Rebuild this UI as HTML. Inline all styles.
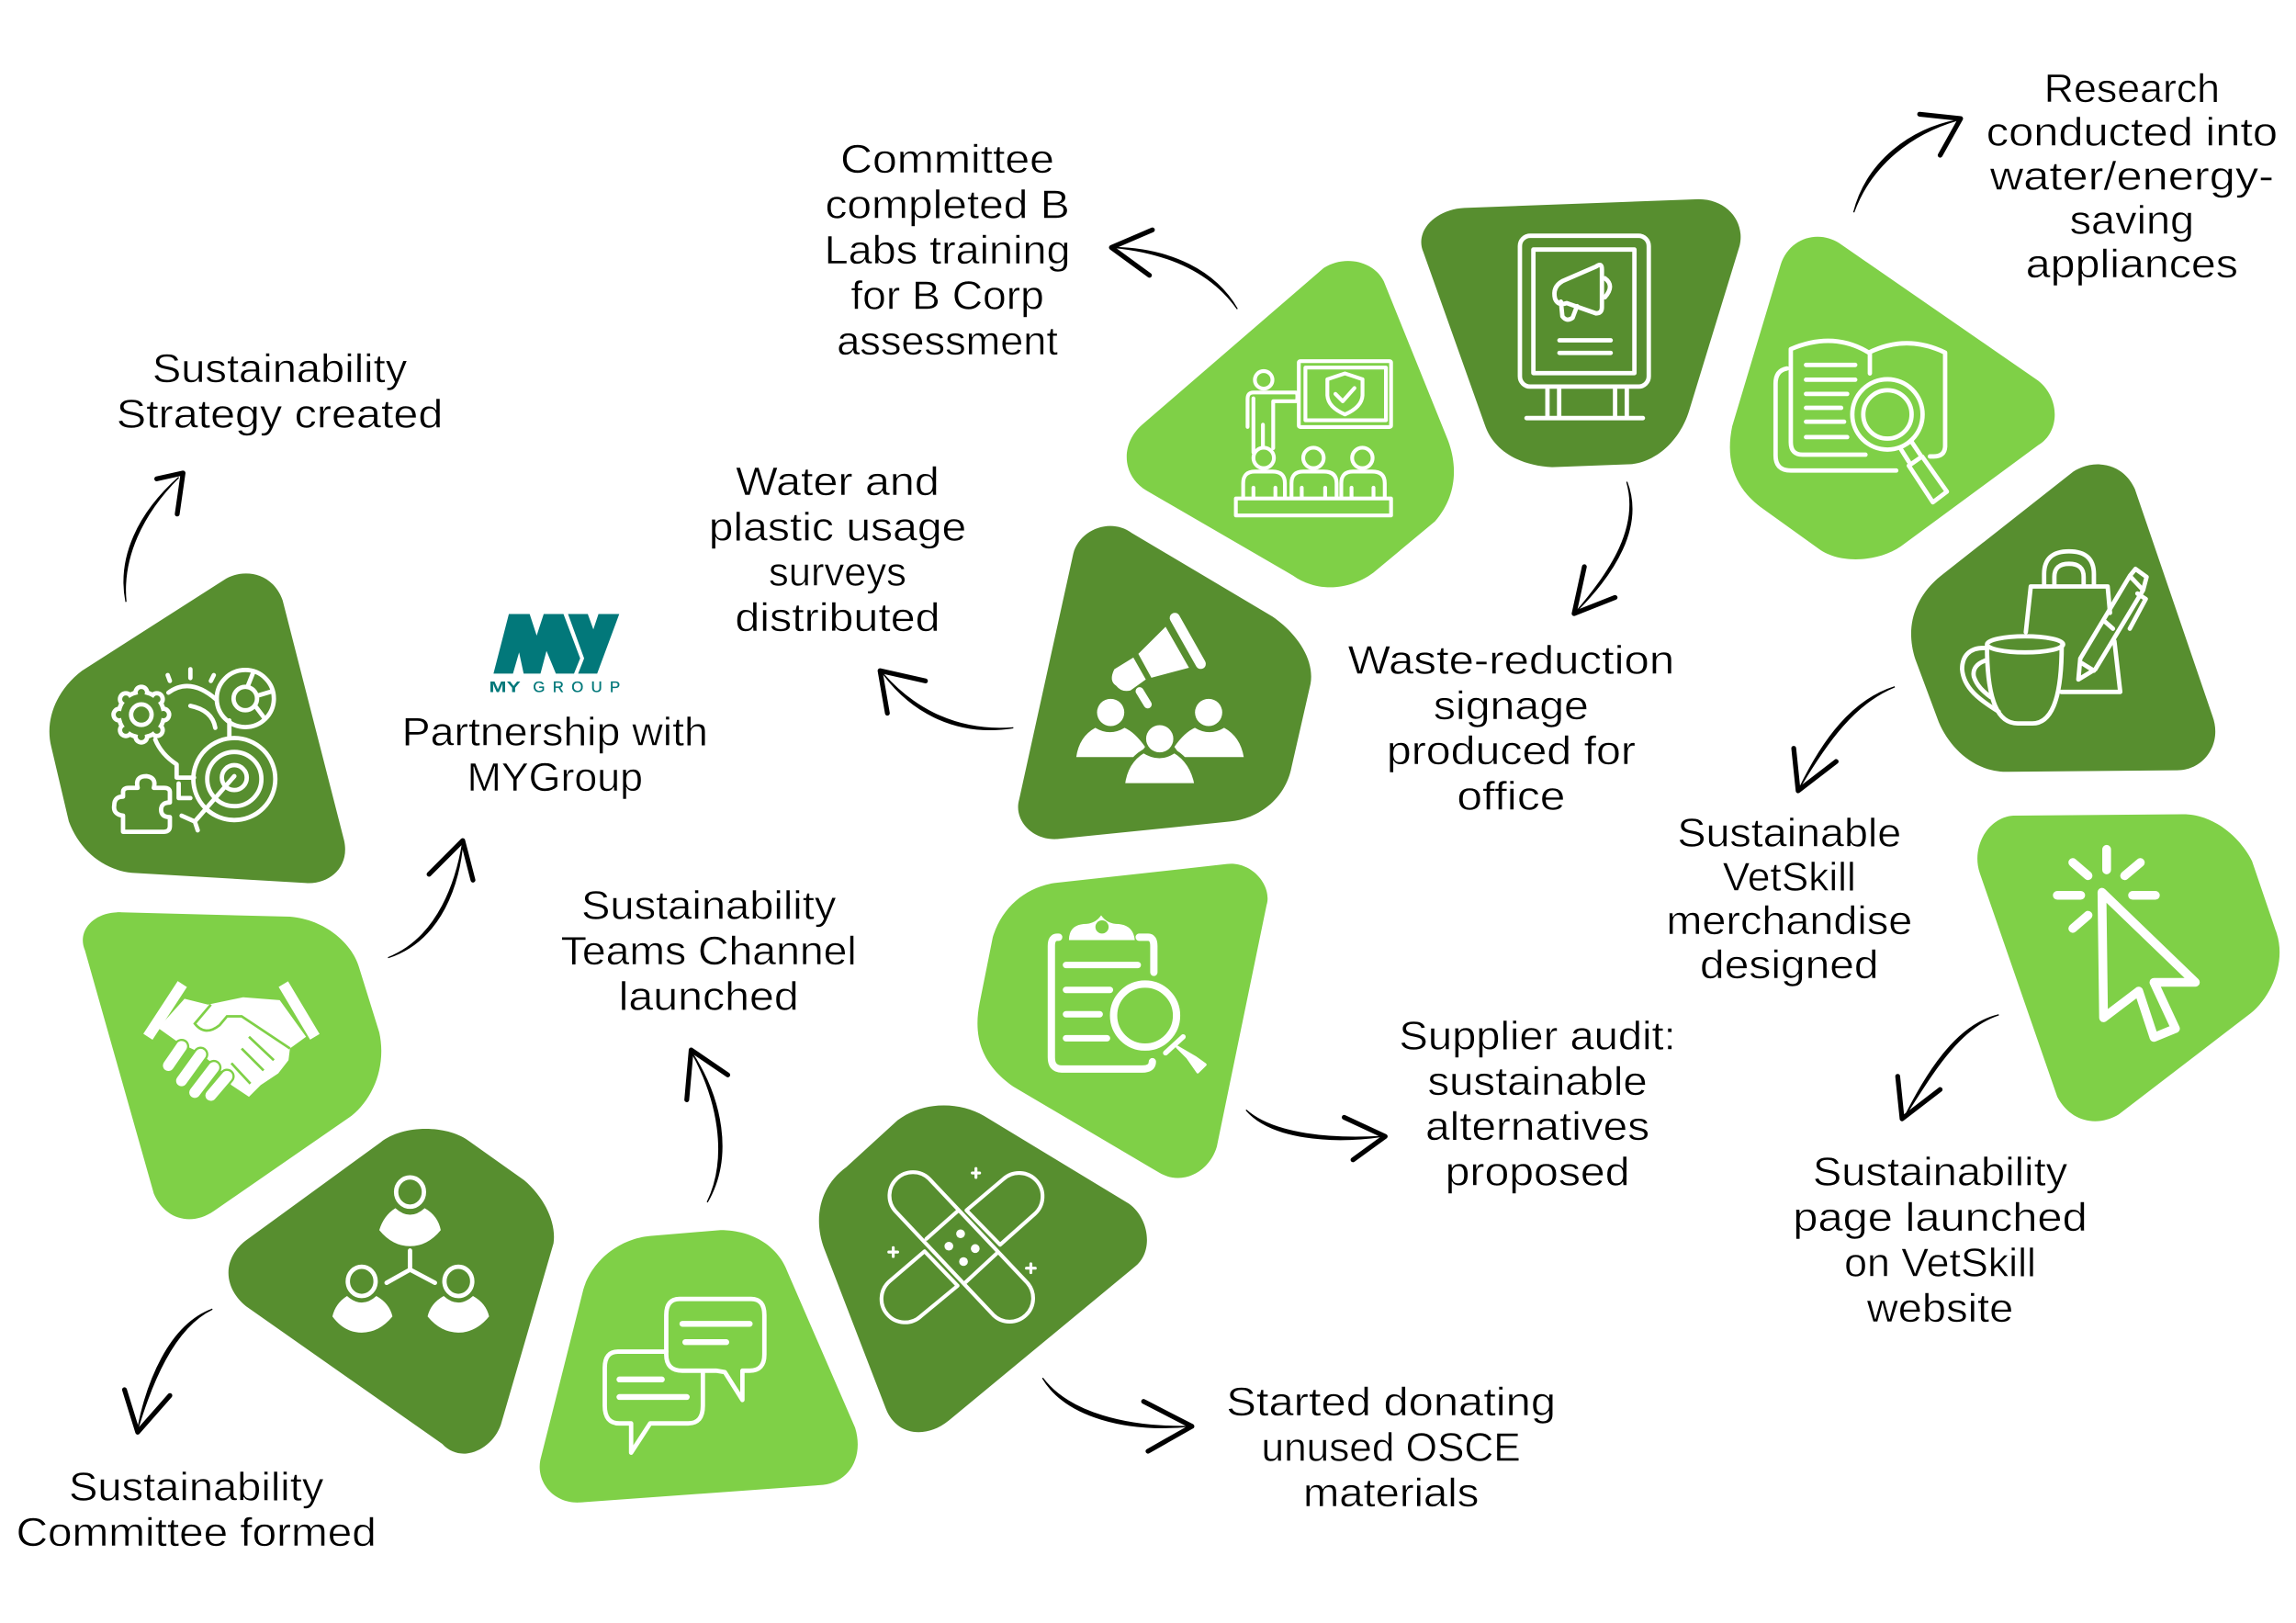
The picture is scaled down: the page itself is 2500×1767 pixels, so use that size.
<!DOCTYPE html>
<html><head><meta charset="utf-8"><title>Sustainability timeline</title>
<style>
html,body{margin:0;padding:0;background:#fff}
svg{display:block;width:2500px;height:1767px}
text.t{font-family:"Liberation Sans",sans-serif;font-size:27.5px;fill:#000;stroke:#fff;stroke-width:.35;text-anchor:middle}
.d{fill:#578e2f}.l{fill:#7fd047}
.w{fill:none;stroke:#fff;stroke-width:3;stroke-linecap:round;stroke-linejoin:round}
.f{fill:#fff}
.a{fill:#000;stroke:#000;stroke-width:.8}
.h{fill:none;stroke:#000;stroke-width:3.3;stroke-linecap:round;stroke-linejoin:round}
</style></head><body>
<svg xmlns="http://www.w3.org/2000/svg" viewBox="0 0 1568 1108.3" width="2500" height="1767">
<rect width="1568" height="1108.3" fill="#fff"/>

<!-- shapes -->
<path class="d" d="M153,396C165,388 186,390 193,410L235,574C239,592 225,604 209,603L90,596C70,594 54,580 47,561L35,510C30,490 40,470 56,458Z"/>
<path class="l" d="M83,623L198,626C222,628 240,644 245,660L259,705C264,728 255,750 240,762L146,827C130,838 112,832 105,815L58,649C52,635 65,622 83,623Z"/>
<path class="d" d="M260,780C275,768 305,768 320,779L358,806C372,818 380,835 378,849L342,973C336,990 315,1000 302,986L168,892C153,880 151,860 168,847Z"/>
<path class="l" d="M444,844L492,840C515,840 532,852 538,869L584,975C590,995 580,1012 562,1014L396,1026C378,1027 366,1012 369,997L398,882C403,862 422,846 444,844Z"/>
<path class="d" d="M613,765C630,752 655,752 672,762L771,822C785,832 788,855 775,865L648,970C632,983 612,980 605,962L563,853C555,832 560,810 578,797Z"/>
<path class="l" d="M720,603L838,590C855,588 869,605 865,618L831,783C826,800 808,810 792,801L692,742C672,728 664,710 669,685L678,640C684,620 700,606 720,603Z"/>
<path class="d" d="M773,364L869,421C885,432 898,450 895,467L882,524C878,545 860,559 840,561L722,573C705,574 692,560 696,546L733,378C737,362 758,353 773,364Z"/>
<path class="l" d="M904,183C918,174 938,178 945,192L989,301C996,320 994,340 980,356L938,391C922,403 900,405 883,393L783,335C766,325 765,303 780,290Z"/>
<path class="d" d="M1000,142L1160,136C1180,136 1192,152 1188,168L1154,279C1148,300 1132,315 1114,317L1060,319C1038,318 1020,308 1014,290L972,172C966,158 980,143 1000,142Z"/>
<path class="l" d="M1256,166L1392,260C1407,272 1407,295 1392,304L1301,371C1285,384 1256,386 1241,374L1202,346C1185,333 1178,315 1183,291L1216,181C1222,162 1242,157 1256,166Z"/>
<path class="d" d="M1416,322C1430,313 1450,316 1458,334L1511,489C1518,508 1505,526 1487,526L1372,527C1350,528 1332,512 1324,493L1308,450C1300,425 1310,405 1327,392Z"/>
<path class="l" d="M1375,557L1491,556C1512,556 1530,572 1538,588L1554,635C1562,655 1552,680 1537,692L1447,761C1432,770 1414,766 1405,749L1352,596C1346,578 1358,558 1375,557Z"/>

<!-- icon: strategy -->
<g class="w">
<circle cx="160" cy="532" r="28"/><circle cx="160" cy="532" r="18.5"/><circle cx="160" cy="531" r="8.5"/>
<circle cx="167.5" cy="477" r="19.5"/><circle cx="167.5" cy="477" r="8"/>
<path d="M173,459L169,469M181,491L175,483M186,472L176,475"/>
<path d="M115,473Q130,462 148,478M130,482Q145,485 147,497M156.6,492V504M106,505Q110,515 120.6,522V531H132.5M122,535V545H130"/>
<path d="M160,530L133,561M124,557L133,561L135,567"/>
<path d="M114.5,461L116,465M130,457V463M146,461L144,465"/>
<path d="M84,568Q84,568 84,564V557Q77,556 78,550Q78,544 84,544V541Q84,538 88,538H94Q92,530 100,530Q107,531 105,538H112Q116,538 116,541V548Q110,548 110,553Q110,558 116,558V564Q116,568 112,568Z"/>
</g>
<path d="M96.5,473h0M107.1,477.4h0M111.5,488h0M107.1,498.6h0M96.5,503h0M85.9,498.6h0M81.5,488h0M85.9,477.4h0" fill="none" stroke="#fff" stroke-width="11" stroke-linecap="round"/>
<circle cx="96.5" cy="488" r="17" fill="#fff"/>
<path d="M96.5,473h0M107.1,477.4h0M111.5,488h0M107.1,498.6h0M96.5,503h0M85.9,498.6h0M81.5,488h0M85.9,477.4h0" fill="none" stroke="#578e2f" stroke-width="5" stroke-linecap="round"/>
<circle cx="96.5" cy="488" r="14" fill="#578e2f"/>
<circle cx="96.5" cy="488" r="7" class="w"/>

<!-- icon: handshake -->
<path d="M124.5,672L101,708M193.5,672L215,708" fill="none" stroke="#fff" stroke-width="7.5" stroke-linecap="butt"/>
<path class="f" d="M126,682L142,686L166,681L191,683L209,708L198,716L197,724L190,733L178,741L170,749L158,741L150,730L135,718L122,712L108,702Z"/>
<path d="M144,686L133,699Q140,708 150,700L155,694H165L198,716M170,708L187,724M165,716L180,731M158,726L171,740" fill="none" stroke="#7fd047" stroke-width="1.7"/>
<path d="M124,714.6L115,727.6M137,720L124,738M146,729L133,746M155,735L144,748" stroke="#7fd047" stroke-width="10.5" stroke-linecap="round" fill="none"/>
<path d="M124,714.6L115,727.6M137,720L124,738M146,729L133,746M155,735L144,748" stroke="#fff" stroke-width="7.5" stroke-linecap="round" fill="none"/>

<!-- icon: people -->
<g class="w"><ellipse cx="280" cy="814" rx="9.5" ry="10"/><ellipse cx="247" cy="875" rx="9.5" ry="10"/><ellipse cx="313" cy="875" rx="9.5" ry="10"/>
<path d="M280,854V867M264,876L280,867L297,876"/></g>
<path class="f" d="M259,840Q262,830 270,825Q280,834 290,825Q299,830 301,840Q292,851 280,851Q268,851 259,840Z"/>
<path class="f" d="M227,899Q229,890 237,885Q247,894 257,885Q266,890 268,899Q259,910 247,910Q235,910 227,899Z"/>
<path class="f" d="M292,899Q294,890 303,885Q313,894 323,885Q332,890 334,899Q325,910 313,910Q301,910 292,899Z"/>

<!-- icon: chat -->
<g class="w"><path d="M464,887H513Q522,887 522,898V925Q522,936 512,936H507V956L495,937L489,936H466Q455,936 455,925V898Q455,887 464,887Z"/>
<path d="M455,923H422Q413,923 413,934V960Q413,972 423,972H431V992L444,972H470Q480,972 480,960V937"/></g>
<g class="w" style="stroke-width:4"><path d="M466,904H512M468,916.5H496M423,942H452M423,954H469"/></g>

<!-- icon: bandage -->
<g class="w" style="stroke-width:2.6"><path d="M634.6,805L701.6,876A16,16 0 0 1 678.4,898L611.4,827A16,16 0 0 1 634.6,805Z"/>
<path d="M660,826.5L685.3,805.1A16,16 0 0 1 706.7,828.9L683,850Z"/>
<path d="M631.4,854.5L607.3,875.1A16,16 0 0 0 628.7,898.9L654,878Z"/>
<path d="M632.6,846L654,827M659,876L680.6,856"/>
<path d="M664,801H669M666.5,798V804M607,855H613M610,852V858M701,866H707M704,863V869" style="stroke-width:2"/></g>
<g fill="#fff"><circle cx="656" cy="842.5" r="3"/><circle cx="648" cy="851" r="3"/><circle cx="666" cy="852.6" r="3"/><circle cx="658" cy="861.5" r="3"/></g>

<!-- icon: clipboard -->
<g class="w" style="stroke-width:5"><path d="M723,640H722Q718,640 718,646V722Q718,730 725,730H780Q787,730 787,725M778,640H784Q788,640 788,646V664"/></g>
<path class="f" d="M730,642Q730,632 740,631Q748,631 752,625Q756,631 764,631Q774,632 775,642Z"/><ellipse cx="752.6" cy="633" rx="4.5" ry="4.5" fill="#7fd047"/>
<g class="w" style="stroke-width:4.4"><path d="M728,659H777M728,676H758M728,692.6H751M728,709H756"/></g>
<circle cx="782" cy="693.5" r="21.5" class="w" style="stroke-width:5"/>
<path class="w" d="M796,719L808,708" style="stroke-width:3.5"/><path d="M804,715L811,722L818,732L823,727L816,722Z" fill="#fff" stroke="#fff" stroke-width="2" stroke-linejoin="round"/>

<!-- icon: megaphone people -->
<path d="M802.3,422L820,453.3" stroke="#fff" stroke-width="7" stroke-linecap="round" fill="none"/>
<path class="f" d="M796,428L777.4,446.5L786.3,462.8L812,456Z"/>
<path class="f" d="M774,449L761,457Q757,465 762.3,468.3Q766,473 772,471.5L782.5,464Z"/>
<path d="M778.3,472L783.8,481" stroke="#fff" stroke-width="5.5" stroke-linecap="round" fill="none"/>
<circle cx="758.5" cy="486.5" r="9.3" class="f"/><circle cx="825.4" cy="486.5" r="9.3" class="f"/>
<path class="f" d="M735,517Q737,503 748,497Q758,503 768,497Q775,500 782,510L777,517ZM849.4,517Q847,503 836,497Q826,503 816,497Q809,500 802,510L807,517Z"/>
<path class="f" stroke="#578e2f" stroke-width="2.5" d="M767,536Q769,520 781,513Q792,520 802,513Q814,520 817,536Z"/>
<circle cx="792" cy="504.5" r="9.3" class="f"/>

<!-- icon: presentation -->
<g class="w" style="stroke-width:2.6">
<rect x="887" y="246.6" width="63" height="45" rx="1"/><rect x="891.5" y="251" width="55" height="36"/>
<path d="M918.5,255L930.5,259V270Q930,278 918.5,283Q907,278 906.5,270V259Z"/><path d="M912,269L917,274L925,265"/>
<circle cx="863" cy="259.4" r="6"/>
<path d="M852,291.5V272.4Q852,268 856,268H885Q886,268 886,271Q886,274 885,274H869.5V306M856,309V272M862.5,290V305"/>
<circle cx="863" cy="312.7" r="7"/><circle cx="897" cy="312.7" r="7"/><circle cx="930.4" cy="312.7" r="7"/>
<path d="M849,340V330Q849,322 857,322H869Q877.5,322 877.5,330V340M882,340V330Q882,322 890,322H904Q912.8,322 912.8,330V340M916,340V330Q916,322 924,322H937Q945.7,322 945.7,330V340"/>
<path d="M856,333V340M871,333V340M889,333V340M905,333V340M923,333V340M938,333V340"/>
<rect x="844" y="340.4" width="106" height="11.6"/>
</g>

<!-- icon: signage -->
<g class="w" style="stroke-width:3">
<rect x="1038" y="161" width="88" height="103" rx="7"/><rect x="1047.2" y="170.4" width="69" height="84.4"/>
<path d="M1056.8,265V284M1064.8,265V284M1103,265V284M1111,265V284M1042.5,285.5H1122"/>
<path d="M1065,232.4H1100M1065,241H1100"/>
<path d="M1090,182L1067,192Q1060,196 1062,204Q1064,209 1070,207L1090,214Q1094,214 1094,210V184Q1094,179 1090,182Z"/>
<path d="M1066,206L1067,216Q1070,220 1074,217L1077,209M1096,190Q1103,195 1096,203"/>
</g>

<!-- icon: book -->
<g class="w" style="stroke-width:3">
<path d="M1223,238.4Q1252,226 1276.3,240.8Q1302,228 1328.4,240.8V305Q1328,311.7 1320.6,311.7H1318M1277,241V255M1223,238.4V302Q1223,310.5 1231,310.5H1274M1220.4,251.6Q1212.6,253 1212.6,262V311Q1212.6,321.3 1223,321.3H1295"/>
<path d="M1233.4,249.2H1267M1233.4,259.3H1267M1233.4,269H1261.5M1233.4,278.5H1257.4M1233.4,288H1259.4M1233.4,298.5H1261.5"/>
<circle cx="1289" cy="283" r="24"/><circle cx="1289" cy="283" r="16.5"/>
<path d="M1298.4,307L1303.6,315.3M1305.7,302L1311.4,310.5M1303.6,318L1312.7,311.7L1329.6,335.7L1320,343Z"/>
</g>

<!-- icon: cup -->
<g class="w" style="stroke-width:3">
<path d="M1383.5,431.7L1386.9,400.5H1439.4L1441,418.5M1444,437.7L1448,472.5H1407.7"/>
<path d="M1396,400V392Q1396,376.5 1413,376.5Q1430,376.5 1430,392V400M1403,400V394Q1403,385 1413,385Q1423,385 1423,394V400"/>
<ellipse cx="1383" cy="440" rx="26" ry="5.5"/>
<path d="M1357,441C1357,480 1365,494 1378,494H1388C1400,494 1408,480 1408,441"/>
<path d="M1356,442.5C1345,442 1340,448 1340,457C1341,470 1352,478 1365,486M1356,451C1350,453 1347,457 1348,462C1350,468 1354,472 1359.5,476"/>
<path d="M1419.4,464L1420.7,449.7L1454.5,393.3L1463.6,403L1431,457ZM1422,453L1430,458M1437.6,424.5L1443,429.3M1454.5,393.3L1458.4,388.5L1466,394L1463.6,403M1459.7,405.3L1465.4,409L1454.5,429.3"/>
</g>

<!-- icon: cursor -->
<g class="w" style="stroke-width:6">
<path d="M1435.5,609.3L1499.3,670.8H1471L1485.7,702.4L1471,708.4L1460.6,676.8L1436.6,695Z"/>
<path d="M1438.7,580V594M1415.6,589L1426,598M1461.7,589L1451,598M1405,611.4H1421M1456.4,611.4H1472M1426,625L1415.6,634"/>
</g>

<!-- logo -->
<path fill="#02787a" d="M337,460L347.5,419.3H361.7L366.5,434L371.3,419.3H384.8L396.2,449.6L392,460H379.6L373.2,444.5L369.1,460H357.6L354.5,445.5L350.3,460ZM387.9,419.3H401.4L405.2,429.8L408.7,419.3H422.9L407.8,460H394.8L398.9,449.6Z"/>
<text x="334" y="472.6" font-family="Liberation Sans,sans-serif" font-weight="700" font-size="10.5" fill="#02787a" textLength="21.5" lengthAdjust="spacingAndGlyphs">MY</text>
<text x="364" y="472.6" font-family="Liberation Sans,sans-serif" font-size="10.5" fill="#02787a" stroke="#02787a" stroke-width=".2" textLength="59.5" lengthAdjust="spacing">GROUP</text>

<!-- arrows -->
<path class="a" d="M86,411C80,380 95,350 122,326C97,351 83,381 86,411Z"/><path class="h" d="M107,327L125,323L121,351"/>
<path class="a" d="M265,654C300,640 312,600 316,575C314,602 302,642 265,654Z"/><path class="h" d="M293,597L316,574L323,601"/>
<path class="a" d="M145,894C115,905 100,945 94,976C103,946 118,907 145,894Z"/><path class="h" d="M85,949L94,978L116,953"/>
<path class="a" d="M483,821C498,790 490,750 472,718C493,750 501,790 483,821Z"/><path class="h" d="M469,751L472,717L497,734"/>
<path class="a" d="M712,941C730,965 770,975 812,974C770,978 728,968 712,941Z"/><path class="h" d="M781,957L814,974L784,991"/>
<path class="a" d="M851,758C870,775 910,778 944,776C910,781 868,778 851,758Z"/><path class="h" d="M918,763L946,776L924,792"/>
<path class="a" d="M692,497C655,500 625,485 603,460C623,487 654,503 692,497Z"/><path class="h" d="M606,487L601,458L632,465"/>
<path class="a" d="M845,211C830,185 800,170 761,169C800,173 828,187 845,211Z"/><path class="h" d="M787,157L759,169L785,188"/>
<path class="a" d="M1111,329C1120,360 1100,390 1077,417C1102,392 1123,360 1111,329Z"/><path class="h" d="M1082,387L1075,419L1103,408"/>
<path class="a" d="M1266,145C1275,110 1305,88 1337,82C1306,91 1278,112 1266,145Z"/><path class="h" d="M1311,78L1339,81L1325,106"/>
<path class="a" d="M1294,469C1265,478 1245,505 1229,538C1248,506 1267,480 1294,469Z"/><path class="h" d="M1225,511L1228,540L1254,520"/>
<path class="a" d="M1365,693C1335,700 1315,735 1301,762C1318,736 1337,702 1365,693Z"/><path class="h" d="M1296,735L1299,764L1325,744"/>

<!-- labels -->
<g>
<text class="t" x="1456" y="69.5" textLength="120" lengthAdjust="spacingAndGlyphs">Research</text>
<text class="t" x="1456" y="99.5" textLength="199" lengthAdjust="spacingAndGlyphs">conducted into</text>
<text class="t" x="1456" y="129.5" textLength="194" lengthAdjust="spacingAndGlyphs">water/energy-</text>
<text class="t" x="1456" y="159.5" textLength="85" lengthAdjust="spacingAndGlyphs">saving</text>
<text class="t" x="1456" y="189.5" textLength="145" lengthAdjust="spacingAndGlyphs">appliances</text>

<text class="t" x="647" y="118" textLength="146" lengthAdjust="spacingAndGlyphs">Committee</text>
<text class="t" x="647" y="149" textLength="167" lengthAdjust="spacingAndGlyphs">completed B</text>
<text class="t" x="647" y="180" textLength="168" lengthAdjust="spacingAndGlyphs">Labs training</text>
<text class="t" x="647" y="211" textLength="132" lengthAdjust="spacingAndGlyphs">for B Corp</text>
<text class="t" x="647" y="242" textLength="151" lengthAdjust="spacingAndGlyphs">assessment</text>

<text class="t" x="191" y="261" textLength="174" lengthAdjust="spacingAndGlyphs">Sustainability</text>
<text class="t" x="191" y="292" textLength="223" lengthAdjust="spacingAndGlyphs">Strategy created</text>

<text class="t" x="572" y="338" textLength="139" lengthAdjust="spacingAndGlyphs">Water and</text>
<text class="t" x="572" y="369" textLength="176" lengthAdjust="spacingAndGlyphs">plastic usage</text>
<text class="t" x="572" y="400" textLength="94" lengthAdjust="spacingAndGlyphs">surveys</text>
<text class="t" x="572" y="431" textLength="140" lengthAdjust="spacingAndGlyphs">distributed</text>

<text class="t" x="379" y="509" textLength="209" lengthAdjust="spacingAndGlyphs">Partnership with</text>
<text class="t" x="379" y="540" textLength="120" lengthAdjust="spacingAndGlyphs">MYGroup</text>

<text class="t" x="1032" y="460" textLength="223" lengthAdjust="spacingAndGlyphs">Waste-reduction</text>
<text class="t" x="1032" y="491" textLength="106" lengthAdjust="spacingAndGlyphs">signage</text>
<text class="t" x="1032" y="522" textLength="170" lengthAdjust="spacingAndGlyphs">produced for</text>
<text class="t" x="1032" y="553" textLength="74" lengthAdjust="spacingAndGlyphs">office</text>

<text class="t" x="1222" y="578" textLength="153" lengthAdjust="spacingAndGlyphs">Sustainable</text>
<text class="t" x="1222" y="608" textLength="91" lengthAdjust="spacingAndGlyphs">VetSkill</text>
<text class="t" x="1222" y="638" textLength="168" lengthAdjust="spacingAndGlyphs">merchandise</text>
<text class="t" x="1222" y="668" textLength="122" lengthAdjust="spacingAndGlyphs">designed</text>

<text class="t" x="1325" y="809.5" textLength="174" lengthAdjust="spacingAndGlyphs">Sustainability</text>
<text class="t" x="1325" y="840.5" textLength="201" lengthAdjust="spacingAndGlyphs">page launched</text>
<text class="t" x="1325" y="871.5" textLength="131" lengthAdjust="spacingAndGlyphs">on VetSkill</text>
<text class="t" x="1325" y="902.5" textLength="100" lengthAdjust="spacingAndGlyphs">website</text>

<text class="t" x="1050" y="716.5" textLength="189" lengthAdjust="spacingAndGlyphs">Supplier audit:</text>
<text class="t" x="1050" y="747.5" textLength="150" lengthAdjust="spacingAndGlyphs">sustainable</text>
<text class="t" x="1050" y="778.5" textLength="153" lengthAdjust="spacingAndGlyphs">alternatives</text>
<text class="t" x="1050" y="809.5" textLength="126" lengthAdjust="spacingAndGlyphs">proposed</text>

<text class="t" x="950" y="966.7" textLength="225" lengthAdjust="spacingAndGlyphs">Started donating</text>
<text class="t" x="950" y="997.7" textLength="177" lengthAdjust="spacingAndGlyphs">unused OSCE</text>
<text class="t" x="950" y="1028.7" textLength="120" lengthAdjust="spacingAndGlyphs">materials</text>

<text class="t" x="484" y="627.5" textLength="174" lengthAdjust="spacingAndGlyphs">Sustainability</text>
<text class="t" x="484" y="658.5" textLength="202" lengthAdjust="spacingAndGlyphs">Teams Channel</text>
<text class="t" x="484" y="689.5" textLength="123" lengthAdjust="spacingAndGlyphs">launched</text>

<text class="t" x="134" y="1024.5" textLength="174" lengthAdjust="spacingAndGlyphs">Sustainability</text>
<text class="t" x="134" y="1055.5" textLength="246" lengthAdjust="spacingAndGlyphs">Committee formed</text>
</g>
</svg>
</body></html>
